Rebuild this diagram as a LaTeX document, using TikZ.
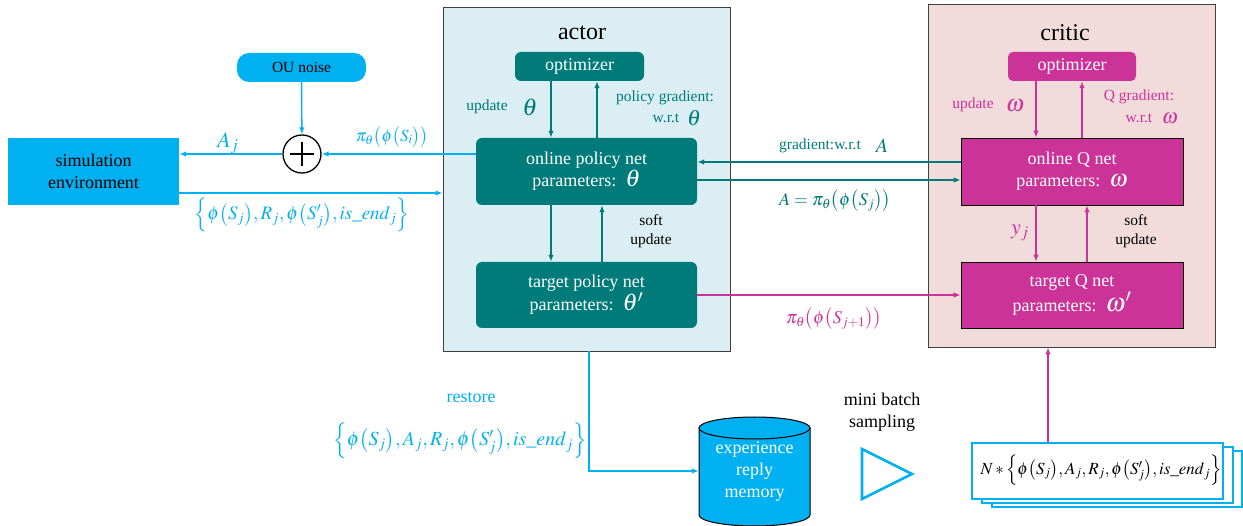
\documentclass[tikz,border=0pt]{standalone}
\usepackage{mathptmx}
\usepackage{fontspec}
\setmainfont{Liberation Serif}
\usetikzlibrary{arrows.meta}
\definecolor{cy}{HTML}{00B0F0}
\definecolor{tl}{HTML}{007B7A}
\definecolor{mg}{HTML}{CC3399}
\definecolor{abg}{HTML}{DAEEF3}
\definecolor{cbg}{HTML}{F2DCDB}
\begin{document}
\begin{tikzpicture}[x=1pt,y=-1pt,
  arr/.style={-{Latex[length=7pt,width=5.5pt]}, line width=1.4pt},
  txt/.style={inner sep=0pt, font=\rmfamily\fontsize{18}{22}\selectfont, align=center},
  lbl/.style={inner sep=0pt, font=\rmfamily\fontsize{15.5}{19}\selectfont, align=center},
  mth/.style={inner sep=0pt, font=\fontsize{#1}{#1}\selectfont},
  mth/.default=20,
  panel/.style={draw=black!75, line width=0.8pt},
  tbox/.style={fill=tl, text=white, rounded corners=6pt, inner sep=0pt, font=\rmfamily\fontsize{18}{22}\selectfont, align=center},
  mbox/.style={fill=mg, text=white, draw=black, line width=0.6pt, inner sep=0pt, font=\rmfamily\fontsize{18}{22}\selectfont, align=center},
  doc/.style={draw=cy, fill=white, line width=1.2pt}
]
\useasboundingbox (0,0) rectangle (1243,526);

% ---------- panels ----------
\node[panel, fill=abg, minimum width=287pt, minimum height=344pt] (actor) at (586.5,179) {};
\node[panel, fill=cbg, minimum width=287pt, minimum height=343pt] (critic) at (1071.5,175.5) {};
\node[inner sep=0pt, font=\rmfamily\fontsize{24}{24}\selectfont] (actorT) at (582,33) {actor};
\node[inner sep=0pt, font=\rmfamily\fontsize{24}{24}\selectfont] (criticT) at (1065,33) {critic};

% ---------- left part ----------
\node[fill=cy, minimum width=171pt, minimum height=67pt, txt] (sim) at (93.5,171.5) {simulation\\environment};
\node[fill=cy, rounded corners=12pt, minimum width=129pt, minimum height=29pt, inner sep=0pt, font=\rmfamily\fontsize{15.5}{19}\selectfont] (ou) at (301.5,67.5) {OU noise};
\node[circle, draw=black, fill=white, line width=1.3pt, minimum size=38pt, inner sep=0pt] (plus) at (302,154) {};
\draw[line width=1.3pt] ([xshift=-12pt]plus.center) -- ([xshift=12pt]plus.center)
  ([yshift=-12pt]plus.center) -- ([yshift=12pt]plus.center);

% ---------- actor nodes ----------
\node[tbox, minimum width=129pt, minimum height=29pt] (aopt) at (579.5,66.5) {optimizer};
\node[tbox, minimum width=221pt, minimum height=67pt] (onp) at (586.5,171.5) {online policy net\\parameters:\ \ {\fontsize{24}{22}\selectfont$\theta$}};
\node[tbox, minimum width=221pt, minimum height=66pt] (tgp) at (586.5,295) {target policy net\\parameters:\ \ {\fontsize{24}{22}\selectfont$\theta'$}};

% ---------- critic nodes ----------
\node[fill=mg, text=white, rounded corners=5pt, minimum width=128pt, minimum height=29pt, inner sep=0pt, font=\rmfamily\fontsize{18}{22}\selectfont] (copt) at (1072,66.5) {optimizer};
\node[mbox, minimum width=222pt, minimum height=67pt] (onq) at (1072,171.5) {online Q net\\parameters:\ \ {\fontsize{24}{22}\selectfont$\omega$}};
\node[mbox, minimum width=222pt, minimum height=66pt] (tgq) at (1072,295) {target Q net\\parameters:\ \ {\fontsize{26}{22}\selectfont$\omega'$}};

% ---------- memory cylinder ----------
\draw[fill=cy, line width=1pt] (699,428) -- (699,515) arc[start angle=180, end angle=0, x radius=55.5, y radius=11] -- (810,428) -- cycle;
\draw[fill=cy, line width=1pt] (754.5,428) ellipse[x radius=55.5, y radius=11];
\node[txt, text=white, minimum width=111pt, minimum height=88pt] (mem) at (754.5,471) {experience\\reply\\memory};

% ---------- sampling triangle ----------
\draw[cy, line width=2.6pt, line join=miter] (862,449) -- (912,474) -- (862,499) -- cycle;
\node[txt] (mbs) at (882,412) {mini batch\\sampling};

% ---------- stacked batch documents ----------
\draw[doc] (992,451) rectangle (1242,507);
\draw[doc] (982,447) rectangle (1233,503);
\node[doc, minimum width=251pt, minimum height=56pt, inner sep=0pt] (batch) at (1097.5,471) {};
\node[mth=17] (batchT) at (1101,470) {$N*\Bigl\{\phi\bigl(S_j\bigr),A_j,R_j,\phi\bigl(S'_j\bigr),\mathit{is\_end}_j\Bigr\}$};

% ---------- connectors: left ----------
\draw[arr, cy] (ou) -- (plus);
\draw[arr, cy] (onp.west |- plus.east) -- (plus.east);
\draw[arr, cy] (plus.west) -- (sim.east |- plus.west);
\path ([yshift=-21.5pt]sim.east) coordinate (s1);
\draw[arr, cy] (s1) -- (s1 -| actor.west);
\node[mth=22, text=cy] (lAj) at (228,143) {$A_j$};
\node[mth=17, text=cy] (lpi) at (392,137) {$\pi_\theta\bigl(\phi\bigl(S_i\bigr)\bigr)$};
\node[mth=19, text=cy] (lset1) at (302,215) {$\Bigl\{\phi\bigl(S_j\bigr),R_j,\phi\bigl(S'_j\bigr),\mathit{is\_end}_j\Bigr\}$};

% ---------- connectors: actor internal ----------
\draw[arr, tl] (aopt.south -| 551,0) -- (onp.north -| 551,0);
\draw[arr, tl] (onp.north -| 597,0) -- (aopt.south -| 597,0);
\draw[arr, tl] (onp.south -| 551,0) -- (tgp.north -| 551,0);
\draw[arr, tl] (tgp.north -| 602,0) -- (onp.south -| 602,0);
\node[lbl, text=tl] (lupd) at (487,107) {update};
\node[mth=24, text=tl] (lth) at (530,107) {$\theta$};
\node[lbl, text=tl] (lpg) at (665,98) {policy gradient:};
\node[lbl, text=tl] (lwrt) at (666,118) {w.r.t};
\node[mth=22, text=tl] (lth2) at (694,118) {$\theta$};
\node[lbl] (lsoft1) at (651,231) {soft\\update};

% ---------- connectors: critic internal ----------
\draw[arr, mg] (copt.south -| 1036,0) -- (onq.north -| 1036,0);
\draw[arr, mg] (onq.north -| 1082,0) -- (copt.south -| 1082,0);
\draw[arr, mg] (onq.south -| 1036,0) -- (tgq.north -| 1036,0);
\draw[arr, mg] (tgq.north -| 1087,0) -- (onq.south -| 1087,0);
\node[lbl, text=mg] (cupd) at (973,105) {update};
\node[mth=24, text=mg] (com) at (1015,106) {$\omega$};
\node[lbl, text=mg] (cqg) at (1139,97) {Q gradient:};
\node[lbl, text=mg] (cwrt) at (1139,118) {w.r.t};
\node[mth=21, text=mg] (com2) at (1170,119) {$\omega$};
\node[mth=22, text=mg] (cyj) at (1020,233) {$y_j$};
\node[lbl] (csoft) at (1136,231) {soft\\update};

% ---------- connectors: actor <-> critic ----------
\draw[arr, tl] ([yshift=9.5pt]onq.west) -- ([yshift=9.5pt]onp.east);
\draw[arr, tl] ([yshift=-8.5pt]onp.east) -- ([yshift=-8.5pt]onq.west);
\draw[arr, mg] (tgp.east) -- (tgq.west);
\node[lbl, text=tl] (lgr) at (820,146) {gradient:w.r.t};
\node[mth=20, text=tl] (lA) at (882,146) {$A$};
\node[mth=18, text=tl] (lAeq) at (835,201) {$A=\pi_\theta\bigl(\phi\bigl(S_j\bigr)\bigr)$};
\node[mth=18, text=mg] (lpi2) at (834,319) {$\pi_\theta\bigl(\phi\bigl(S_{j+1}\bigr)\bigr)$};

% ---------- bottom connectors ----------
\draw[arr, cy] (actor.south -| 589,0) |- (mem.west);
\draw[arr, mg] (batch.north -| 1048,0) -- (critic.south -| 1048,0);
\node[txt, text=cy] (lrest) at (471,398) {restore};
\node[mth=20, text=cy] (lset2) at (460,441) {$\Bigl\{\phi\bigl(S_j\bigr),A_j,R_j,\phi\bigl(S'_j\bigr),\mathit{is\_end}_j\Bigr\}$};
\end{tikzpicture}
\end{document}
